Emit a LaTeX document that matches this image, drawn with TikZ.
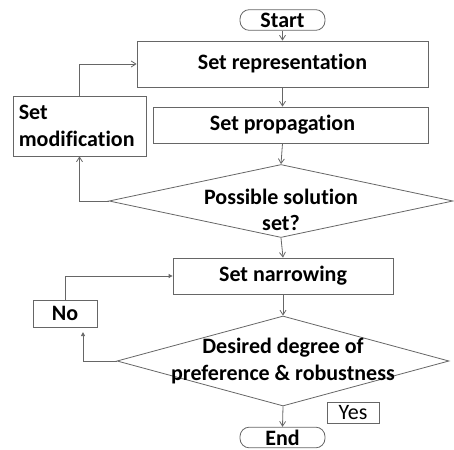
\documentclass[tikz,border=0pt]{standalone}
\usepackage{fontspec}
\setmainfont{Carlito}[Ligatures=NoCommon]
\usetikzlibrary{shapes.geometric,arrows.meta}

\tikzset{
  flowline/.style={draw=black!60, line width=0.6pt},
  flowarrow/.style={flowline, -{Straight Barb[length=3.5pt,width=4.5pt]}},
  fillarrow/.style={flowline, -{Triangle[length=3pt,width=3pt]}},
  flowfont/.style={font=\bfseries\fontsize{16.5}{19.8}\selectfont},
  stepbox/.style={flowline, rectangle, inner sep=0pt, flowfont},
  termbox/.style={stepbox, rounded corners=7pt, minimum width=63.75pt, minimum height=15.5pt},
  testbox/.style={flowline, diamond, inner sep=0pt},
}

\begin{document}
\begin{tikzpicture}[x=0.75pt,y=0.75pt,yscale=-1,xscale=1]
\useasboundingbox (0,0) rectangle (454,450);

% Text Node
\node [termbox] (start) at (282.5,20) {Start};
% Text Node
\node [stepbox, minimum width=218.25pt, minimum height=34.5pt] (rep) at (282.5,64) {Set representation};
% Text Node
\node [stepbox, minimum width=206.25pt, minimum height=27pt] (prop) at (290.5,125)
  {\hspace*{-12pt}Set propagation};
% Text Node
\node [stepbox, minimum width=99.75pt, minimum height=45pt, text width=91pt, align=left, inner xsep=4.4pt] (mod) at (79.5,126)
  {Set\\modification};
% Text Node
\node [testbox, minimum width=258pt, minimum height=54.75pt,
  label={[flowfont, align=center, yshift=-6.5pt]center:Possible solution\\set?}] (poss) at (281,201) {};
% Text Node
\node [stepbox, minimum width=165pt, minimum height=27pt] (narrow) at (283,276) {Set narrowing};
% Text Node
\node [stepbox, minimum width=48pt, minimum height=20.25pt] (no) at (65,313.5) {No};
% Text Node
\node [testbox, minimum width=249pt, minimum height=67.5pt,
  label={[flowfont, align=center]center:Desired degree of\\preference \& robustness}] (pref) at (283,361) {};
% Text Node
\node [stepbox, font=\fontsize{16.5}{19.8}\selectfont, minimum width=39pt, minimum height=15.75pt] (yes) at (353,412.5) {Yes};
% Text Node
\node [termbox] (end) at (282.5,437.5) {End};

%Straight Lines
\draw [flowarrow] (start.south) -- (rep.north);
%Straight Lines
\draw [flowarrow] (rep.south) -- (rep.south |- prop.north);
%Straight Lines
\draw [flowarrow] (rep.south |- prop.south) -- (poss.north);
%Straight Lines
\draw [flowarrow] (poss.west) -| (mod.south);
%Straight Lines
\draw [flowarrow] (mod.north) |- (rep.west);
%Straight Lines
\draw [flowarrow] (poss.south) -- (narrow.north);
%Straight Lines
\draw [fillarrow] (no.north) |- (narrow.west);
%Straight Lines
\draw [flowarrow] (narrow.south) -- (pref.north);
%Straight Lines
\draw [fillarrow, shorten >=3.5pt] (pref.west) -| ([xshift=13.5pt]no.south);
%Straight Lines
\draw [flowarrow] (pref.south) -- (end.north);

\end{tikzpicture}
\end{document}
